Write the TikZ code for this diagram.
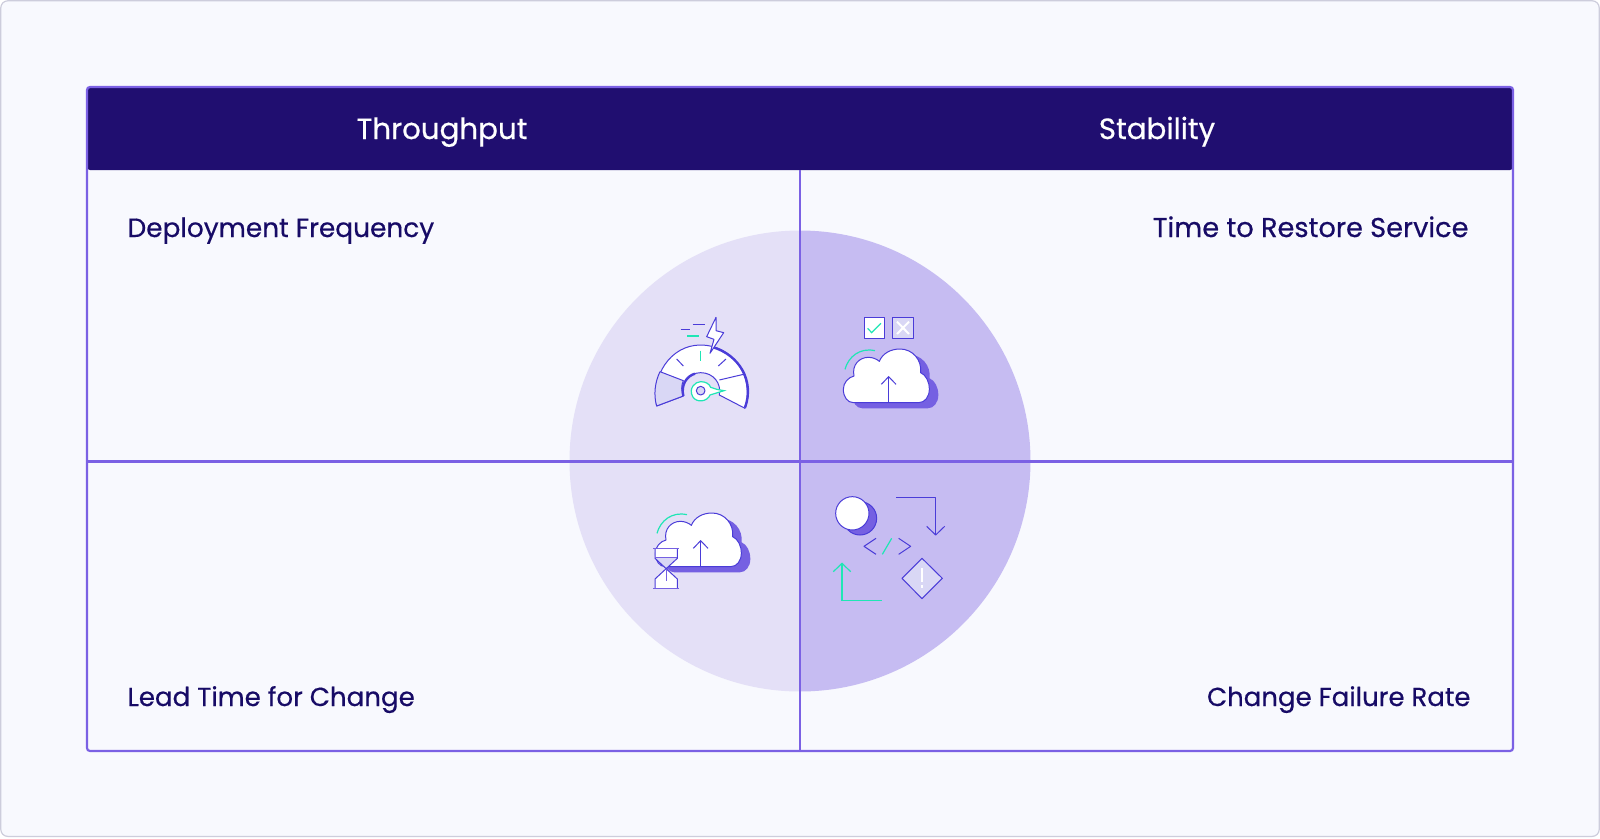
\documentclass[tikz,border=0pt]{standalone}
\usepackage{fontspec}
\setmainfont{Poppins}[FakeBold=0.5]
\definecolor{pagebg}{HTML}{F8F9FE}
\definecolor{framegray}{HTML}{CDCDDC}
\definecolor{headblue}{HTML}{200E70}
\definecolor{textblue}{HTML}{170B66}
\definecolor{gridpurple}{HTML}{7B61E4}
\definecolor{circleleft}{HTML}{E4E0F7}
\definecolor{circleright}{HTML}{C6BCF2}
\definecolor{iconline}{HTML}{4A3CD8}
\definecolor{iconshade}{HTML}{7560E2}
\definecolor{iconlight}{HTML}{D9D7F5}
\definecolor{iconteal}{HTML}{1FE6B5}
\tikzset{
  gridline/.style = {draw = gridpurple, line width = 2.2pt},
  headtext/.style = {text = white, font = \fontsize{29.3}{34}\selectfont, anchor = base},
  celltext/.style = {text = textblue, font = \fontsize{26.4}{30}\selectfont},
  icon/.style = {draw = iconline, line width = 1pt, line join = round},
  tealline/.style = {draw = iconteal, line width = 1.2pt},
  zoomed/.style = {x = .3333pt, y = -.3333pt},
  cloudicon/.pic = {
    \fill [iconshade, shift = {(27,17)}]
      (100,308) .. controls (82,308) and (70,290) .. (70,268)
      .. controls (70,248) and (85,232) .. (102,228)
      .. controls (95,195) and (118,172) .. (145,172)
      .. controls (158,172) and (170,177) .. (178,184)
      .. controls (188,160) and (212,147) .. (240,147)
      .. controls (278,147) and (306,180) .. (302,218)
      .. controls (318,225) and (328,245) .. (328,268)
      .. controls (328,290) and (315,308) .. (296,308) -- cycle;
    \draw [icon, fill = white]
      (100,308) .. controls (82,308) and (70,290) .. (70,268)
      .. controls (70,248) and (85,232) .. (102,228)
      .. controls (95,195) and (118,172) .. (145,172)
      .. controls (158,172) and (170,177) .. (178,184)
      .. controls (188,160) and (212,147) .. (240,147)
      .. controls (278,147) and (306,180) .. (302,218)
      .. controls (318,225) and (328,245) .. (328,268)
      .. controls (328,290) and (315,308) .. (296,308) -- cycle;
    \draw [icon] (206,308) -- (206,230);
    \draw [icon] (184,253) -- (206,230) -- (228,253);
    \draw [tealline] (75,208) .. controls (85,170) and (120,142) .. (165,152);
  }
}
\begin{document}
\begin{tikzpicture}[x = 1pt, y = -1pt]
  \useasboundingbox (0,0) rectangle (1600,838);
  % page
  \draw [fill = pagebg, draw = framegray, line width = 1.2pt, rounded corners = 7pt]
    (.8,.8) rectangle (1599.2,836.4);
  % circle, two halves
  \fill [circleleft] (800,691.5) arc (90:270:230.5) -- cycle;
  \fill [circleright] (800,691.5) arc (90:-90:230.5) -- cycle;
  % table
  \fill [headblue, rounded corners = 3pt] (87,87) rectangle (1513,170);
  \draw [gridline] (800,170) -- (800,751);
  \draw [gridline] (87,461.5) -- (1513,461.5);
  \draw [gridline, rounded corners = 3pt] (87,87) rectangle (1513,751);
  % labels
  \node [headtext] (throughput) at (442,139) {Throughput};
  \node [headtext] (stability) at (1157,139) {Stability};
  \node [celltext, anchor = base west] (deploy) at (124,237) {Deployment Frequency};
  \node [celltext, anchor = base east, font = \fontsize{27.2}{30}\selectfont] (restore) at (1472,237) {Time to Restore Service};
  \node [celltext, anchor = base west, font = \fontsize{26.1}{30}\selectfont] (lead) at (124,706) {Lead Time for Change};
  \node [celltext, anchor = base east, font = \fontsize{26}{30}\selectfont] (failure) at (1474,706) {Change Failure Rate};
  % gauge
  \begin{scope}[shift = {(630,300)}, zoomed]
    \draw [icon, fill = white] (80,318) .. controls (62,230) and (120,135) .. (212,135)
      .. controls (305,135) and (375,225) .. (345,325) -- (268,285)
      .. controls (275,250) and (250,218) .. (212,218)
      .. controls (178,218) and (150,250) .. (160,288) -- cycle;
    \draw [icon, fill = iconlight] (80,318) .. controls (70,285) and (75,245) .. (90,215)
      -- (160,242) .. controls (153,258) and (154,272) .. (160,288) -- cycle;
    \draw [icon, line width = 2.4pt] (250,142) .. controls (325,165) and (375,240) .. (345,323);
    \draw [icon, line width = 2.4pt] (160,288) .. controls (152,255) and (170,228) .. (195,221);
    \draw [icon] (268,240) -- (345,222);
    \draw [tealline, fill = white] (260,268) -- (282,272) -- (240,285)
      .. controls (232,305) and (200,310) .. (188,290)
      .. controls (175,265) and (195,245) .. (212,245)
      .. controls (228,245) and (238,252) .. (242,262) -- cycle;
    \draw [icon, fill = iconlight] (212,272) circle (13);
    \draw [icon] (140,177) -- (160,198);
    \draw [icon] (288,177) -- (265,198);
    \draw [tealline] (212,152) -- (212,182);
    \draw [icon, fill = white] (258,52) -- (230,110) -- (252,118) -- (240,160)
      -- (281,98) -- (258,92) -- cycle;
    \draw [icon] (152,88) -- (180,88);
    \draw [icon] (188,72) -- (225,72);
    \draw [tealline] (172,108) -- (208,108);
  \end{scope}
  % cloud with the two boxes
  \begin{scope}[shift = {(820,300)}, zoomed]
    \pic at (0,0) {cloudicon};
    \draw [icon, fill = white] (132,52) rectangle (193,115);
    \draw [tealline] (143,85) -- (155,98) -- (183,70);
    \draw [icon, fill = iconlight] (218,52) rectangle (280,115);
    \draw [white, line width = 2pt] (231,65) -- (267,102) (267,65) -- (231,102);
  \end{scope}
  % cloud with the hourglass
  \begin{scope}[shift = {(630,495)}, zoomed]
    \pic at (6,-93) {cloudicon};
    \fill [white] (75,160) rectangle (142,190);
    \fill [iconlight] (75,187) -- (142,187) -- (108,222) -- cycle;
    \fill [white] (108,222) -- (142,252) -- (142,282) -- (75,282) -- (75,252) -- cycle;
    \draw [icon] (75,160) -- (75,190) -- (142,252) -- (142,282);
    \draw [icon] (142,160) -- (142,190) -- (75,252) -- (75,282);
    \draw [icon, iconshade] (108,222) -- (108,258);
    \draw [icon, iconshade] (70,160) -- (148,160) (70,282) -- (148,282);
    \draw [icon, iconshade] (75,187) -- (142,187);
  \end{scope}
  % code and flow arrows
  \begin{scope}[shift = {(820,485)}, zoomed]
    \draw [icon, fill = iconshade] (120,100) circle (50);
    \draw [icon, fill = white] (97,85) circle (50);
    \draw [icon] (228,38) -- (347,38) -- (347,150);
    \draw [icon] (320,124) -- (347,150) -- (374,124);
    \draw [icon] (168,160) -- (132,184) -- (168,208);
    \draw [icon] (236,160) -- (272,184) -- (236,208);
    \draw [tealline] (215,160) -- (187,208);
    \draw [tealline] (185,346) -- (66,346) -- (66,235);
    \draw [tealline] (40,260) -- (66,235) -- (92,260);
    \draw [icon, fill = iconlight] (306,220) -- (367,280) -- (306,341) -- (246,280) -- cycle;
    \draw [white, line width = 2pt] (306,248) -- (306,290) (306,299) -- (306,310);
  \end{scope}
\end{tikzpicture}
\end{document}
